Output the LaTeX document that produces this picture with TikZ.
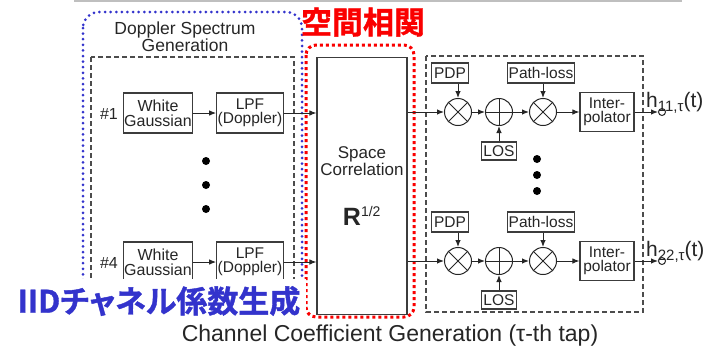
\documentclass[tikz,border=0pt]{standalone}
\usepackage{fontspec}
\setmainfont{Liberation Sans}
\newfontfamily\cjk{Noto Sans CJK JP Bold}[RawFeature=+palt,FakeBold=1.2]
\usepackage{xcolor}
\usepackage{tikz}
\usetikzlibrary{arrows.meta,positioning}
\definecolor{iidblue}{RGB}{51,51,204}
\definecolor{corrred}{RGB}{250,0,0}
\definecolor{lineg}{RGB}{60,60,60}

\begin{document}
\begin{tikzpicture}[x=1pt,y=-1pt]
    \tikzset{box/.style={draw=lineg,line width=1.1pt,fill=white,inner sep=1pt,align=center,text=black!85,font=\fontsize{15.5}{14}\selectfont},
      arr/.style={-{Latex[length=7pt,width=5.5pt]},line width=1pt,black!85},
      mult/.style={circle,draw=black!85,line width=1pt,minimum size=27pt,inner sep=0pt,
        path picture={\draw[line width=1pt,black!85] (path picture bounding box.north east) -- (path picture bounding box.south west)
          (path picture bounding box.north west) -- (path picture bounding box.south east);}},
      adder/.style={circle,draw=black!85,line width=1pt,minimum size=27pt,inner sep=0pt,
        path picture={\draw[line width=1pt,black!85] (path picture bounding box.north) -- (path picture bounding box.south)
          (path picture bounding box.west) -- (path picture bounding box.east);}},
      outpin/.style={circle,draw=black!85,line width=1pt,fill=white,minimum size=7pt,inner sep=0pt},
      groupbox/.style={draw=black!70,line width=1.1pt,dash pattern=on 5pt off 3pt},
      bluedots/.style={draw=iidblue,line width=3pt,line cap=round,dash pattern=on 0pt off 5.6pt},
      reddots/.style={draw=corrred,line width=3pt,dash pattern=on 3pt off 3pt}}
    \useasboundingbox (0,0) rectangle (720,349);
    \draw[gray!50,line width=1.5pt] (74,1) -- (682,1);
    \draw[bluedots,rounded corners=16pt] (83,12) rectangle (302,318);
    \draw[groupbox] (91,57) rectangle (294,312);
    \draw[groupbox] (426,56) rectangle (643,312);
    \draw[reddots,rounded corners=10pt] (306,45) rectangle (414,317);
    \node[align=center,text=black!85,font=\fontsize{17.5}{15}\selectfont] (dsg) at (185,37) {Doppler Spectrum\\Generation};
    \node[box,minimum width=90pt,minimum height=257pt,font=\fontsize{17}{17}\selectfont] (sc) at (362,186) {Space\\Correlation\\[30pt]\fontsize{25}{25}\selectfont\bfseries R\textsuperscript{\mdseries\fontsize{14}{14}\selectfont 1/2}};
    \foreach \r/\y/\num/\out in {1/112/1/11, 2/261/4/22}{
      \node[text=black!85,font=\fontsize{16}{15}\selectfont] (num\r) at (109,\y+2) {\#\num};
      \node[box,minimum width=69pt,minimum height=40pt,font=\fontsize{16}{15}\selectfont] (wg\r) at (158,\y+1) {White\\Gaussian};
      \node[box,minimum width=63pt,minimum height=40pt] (lpf\r) at (250,\y+1) {LPF\\(Doppler)};
      \node[mult] (ma\r) at (458,\y) {};
      \node[adder] (ad\r) at (499,\y) {};
      \node[mult] (mb\r) at (543,\y) {};
      \node[box,minimum width=37pt,minimum height=20pt] (pdp\r) at (450,\y-39) {PDP};
      \node[box,minimum width=64pt,minimum height=20pt] (pl\r) at (541,\y-39) {Path-loss};
      \node[box,minimum width=35pt,minimum height=18pt] (los\r) at (499,\y+39) {LOS};
      \node[box,minimum width=54pt,minimum height=39pt] (int\r) at (607,\y) {Inter-\\polator};
      \node[outpin] (out\r) at (662,\y) {};
      \node[anchor=base west,inner sep=0pt,text=black!85,font=\fontsize{21}{21}\selectfont] (h\r) at (646,\y-5) {h\raisebox{-4pt}{\fontsize{15}{15}\selectfont\out,τ}(t)};
      \draw[arr] (wg\r) -- (lpf\r);
      \draw[arr] (lpf\r) -- (lpf\r -| sc.west);
      \draw[arr] (sc.east |- ma\r) -- (ma\r);
      \draw[arr] (ma\r) -- (ad\r);
      \draw[arr] (ad\r) -- (mb\r);
      \draw[arr] (mb\r) -- (int\r);
      \draw[arr] (int\r) -- (out\r);
      \draw[arr] (pdp\r.south -| ma\r) -- (ma\r);
      \draw[arr] (pl\r.south -| mb\r) -- (mb\r);
      \draw[arr] (los\r) -- (ad\r);
    }
    \foreach \d in {161,185,209}{ \fill[black] (206,\d) circle (4pt); }
    \foreach \d in {159,175,191}{ \fill[black] (537,\d) circle (4pt); }
    \node[fill=white,minimum width=294pt,minimum height=44pt,inner sep=0pt,text=iidblue,font=\cjk\fontsize{31}{31}\selectfont] (iid) at (159,301) {IIDチャネル係数生成};
    \node[text=corrred,font=\cjk\fontsize{31}{31}\selectfont] (kuukan) at (363,22) {空間相関};
    \node[text=black!85,font=\fontsize{23}{23}\selectfont] (ccg) at (390,336) {Channel Coefficient Generation (τ-th tap)};
\end{tikzpicture}
\end{document}
